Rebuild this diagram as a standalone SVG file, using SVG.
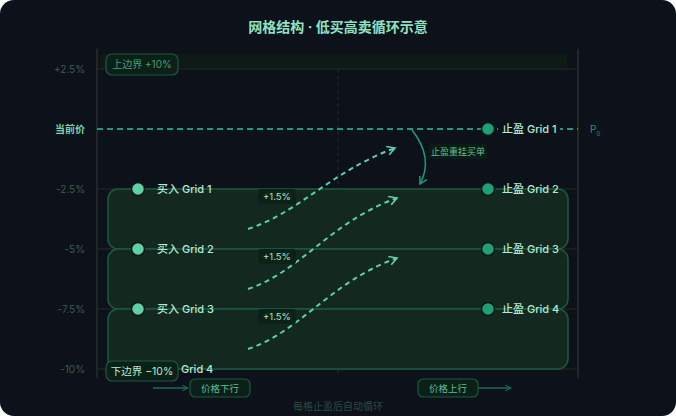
<svg xmlns="http://www.w3.org/2000/svg" width="676" height="416" viewBox="0 0 676 416">
<defs>
<style>
text{font-family:Inter,"Noto Sans CJK SC",sans-serif}
.ax{fill:#3f5c50;font-size:10px;text-anchor:end}
.grid{stroke:#1a2521;stroke-width:1.5}
.lbl{fill:#b4ead3;font-size:11px;font-weight:500}
.zone{fill:#13281f;stroke:#1d5842;stroke-width:1.5}
.buy{fill:#5fcfa8;stroke:#0c1a14;stroke-width:1.5}
.sell{fill:#1f9e77;stroke:#0c1a14;stroke-width:1.5}
.pct{fill:#0c2219}
.pctt{fill:#a8e6cc;font-size:9.5px;text-anchor:middle}
.flow{fill:none;stroke:#5fcfa8;stroke-width:2;stroke-dasharray:5 4}
.pill{fill:#0b2118;stroke:#1d5842;stroke-width:1.2}
</style>
<marker id="ah" viewBox="0 0 10 10" refX="8" refY="5" markerWidth="11" markerHeight="11" orient="auto" markerUnits="userSpaceOnUse">
<path d="M1,1 L8,5 L1,9" fill="none" stroke="#5fcfa8" stroke-width="1.5"/>
</marker>
<marker id="ah2" viewBox="0 0 10 10" refX="8" refY="5" markerWidth="10" markerHeight="10" orient="auto" markerUnits="userSpaceOnUse">
<path d="M1,1 L8,5 L1,9" fill="none" stroke="#1f9a7a" stroke-width="1.5"/>
</marker>
<marker id="ah3" viewBox="0 0 10 10" refX="9" refY="5" markerWidth="7" markerHeight="7" orient="auto" markerUnits="userSpaceOnUse">
<path d="M1,1 L9,5 L1,9" fill="none" stroke="#1f6a55" stroke-width="1.5"/>
</marker>
</defs>
<rect x="0" y="0" width="676" height="416" fill="#ffffff"/>
<rect x="0" y="0" width="676" height="416" rx="14" fill="#0d1119"/>
<text x="338" y="32" text-anchor="middle" font-size="14" font-weight="bold" fill="#8fe3c2">网格结构 · 低买高卖循环示意</text>

<g id="axes">
<rect x="100" y="54" width="467" height="15" fill="#0e1a15"/>
<line class="grid" x1="97" y1="69" x2="578" y2="69"/>
<line class="grid" x1="97" y1="189" x2="578" y2="189"/>
<line class="grid" x1="97" y1="249" x2="578" y2="249"/>
<line class="grid" x1="97" y1="309" x2="578" y2="309"/>
<line class="grid" x1="97" y1="369" x2="578" y2="369"/>
<line x1="97" y1="49" x2="97" y2="378" stroke="#1e2824" stroke-width="2"/>
<line x1="578" y1="49" x2="578" y2="378" stroke="#1e2824" stroke-width="2"/>
<line x1="338" y1="69" x2="338" y2="376" stroke="#1c2724" stroke-width="1.5" stroke-dasharray="3 4"/>
<text class="ax" x="85" y="73">+2.5%</text>
<text x="85" y="133" text-anchor="end" font-size="10" font-weight="bold" fill="#7dd3b0">当前价</text>
<text class="ax" x="85" y="193">-2.5%</text>
<text class="ax" x="85" y="253">-5%</text>
<text class="ax" x="85" y="313">-7.5%</text>
<text class="ax" x="85" y="373">-10%</text>
</g>

<g id="zones">
<rect class="zone" x="108" y="189" width="460" height="60" rx="10"/>
<rect class="zone" x="108" y="249" width="460" height="60" rx="10"/>
<rect class="zone" x="108" y="309" width="460" height="60" rx="10"/>
</g>

<g id="current-price">
<line x1="97" y1="129" x2="578" y2="129" stroke="#23977a" stroke-width="1.8" stroke-dasharray="6 4"/>
<rect x="498" y="121" width="62" height="16" fill="#0d1119"/>
<text x="590" y="133" font-size="10" fill="#23977a">P<tspan font-size="6" dy="3">0</tspan></text>
</g>

<g id="upper-bound">
<rect class="pill" x="106" y="54" width="72" height="21" rx="6"/>
<text x="142" y="68" text-anchor="middle" font-size="10" fill="#4f9a7c">上边界 +10%</text>
</g>

<g id="connectors">
<path class="flow" d="M248,229 C300,212 330,172 395,148" marker-end="url(#ah)"/>
<path class="flow" d="M248,289 C300,272 330,222 397,198" marker-end="url(#ah)"/>
<path class="flow" d="M248,349 C300,332 330,282 397,258" marker-end="url(#ah)"/>
<path d="M412,130 Q434,158 420,184" fill="none" stroke="#1f9a7a" stroke-width="1.5" marker-end="url(#ah2)"/>
<line x1="153" y1="388" x2="188" y2="388" stroke="#1f6a55" stroke-width="1.5" marker-end="url(#ah3)"/>
<line x1="478" y1="388" x2="511" y2="388" stroke="#1f6a55" stroke-width="1.5" marker-end="url(#ah3)"/>
</g>

<g id="pct1"><rect class="pct" x="258" y="189" width="38" height="15" rx="3"/><text class="pctt" x="277" y="200">+1.5%</text></g>
<g id="pct2"><rect class="pct" x="258" y="249" width="38" height="15" rx="3"/><text class="pctt" x="277" y="260">+1.5%</text></g>
<g id="pct3"><rect class="pct" x="258" y="309" width="38" height="15" rx="3"/><text class="pctt" x="277" y="320">+1.5%</text></g>

<g id="relist-label">
<rect x="429" y="144" width="58" height="15" rx="3" fill="#0b1c15"/>
<text x="431" y="155" font-size="9" fill="#5fbf9a">止盈重挂买单</text>
</g>

<g id="buy1"><circle class="buy" cx="138" cy="189" r="6.5"/><text class="lbl" x="157" y="193">买入 Grid 1</text></g>
<g id="buy2"><circle class="buy" cx="138" cy="249" r="6.5"/><text class="lbl" x="157" y="253">买入 Grid 2</text></g>
<g id="buy3"><circle class="buy" cx="138" cy="309" r="6.5"/><text class="lbl" x="157" y="313">买入 Grid 3</text></g>
<g id="buy4"><circle class="buy" cx="138" cy="369" r="6.5"/><text class="lbl" x="181" y="373">Grid 4</text></g>

<g id="sell1"><circle class="sell" cx="488" cy="129" r="6.5"/><text class="lbl" x="502" y="133">止盈 Grid 1</text></g>
<g id="sell2"><circle class="sell" cx="488" cy="189" r="6.5"/><text class="lbl" x="502" y="193">止盈 Grid 2</text></g>
<g id="sell3"><circle class="sell" cx="488" cy="249" r="6.5"/><text class="lbl" x="502" y="253">止盈 Grid 3</text></g>
<g id="sell4"><circle class="sell" cx="488" cy="309" r="6.5"/><text class="lbl" x="502" y="313">止盈 Grid 4</text></g>

<g id="lower-bound">
<rect class="pill" x="106" y="361" width="72" height="20" rx="6"/>
<text x="142" y="375" text-anchor="middle" font-size="10.5" fill="#b4ead3">下边界 −10%</text>
</g>

<g id="down-label">
<rect class="pill" x="190" y="379" width="60" height="18" rx="5"/>
<text x="220" y="392" text-anchor="middle" font-size="9.5" fill="#5fbf9a">价格下行</text>
</g>
<g id="up-label">
<rect class="pill" x="418" y="379" width="60" height="18" rx="5"/>
<text x="448" y="392" text-anchor="middle" font-size="9.5" fill="#5fbf9a">价格上行</text>
</g>

<text x="338" y="410" text-anchor="middle" font-size="10" fill="#2c4a3f">每格止盈后自动循环</text>
</svg>
